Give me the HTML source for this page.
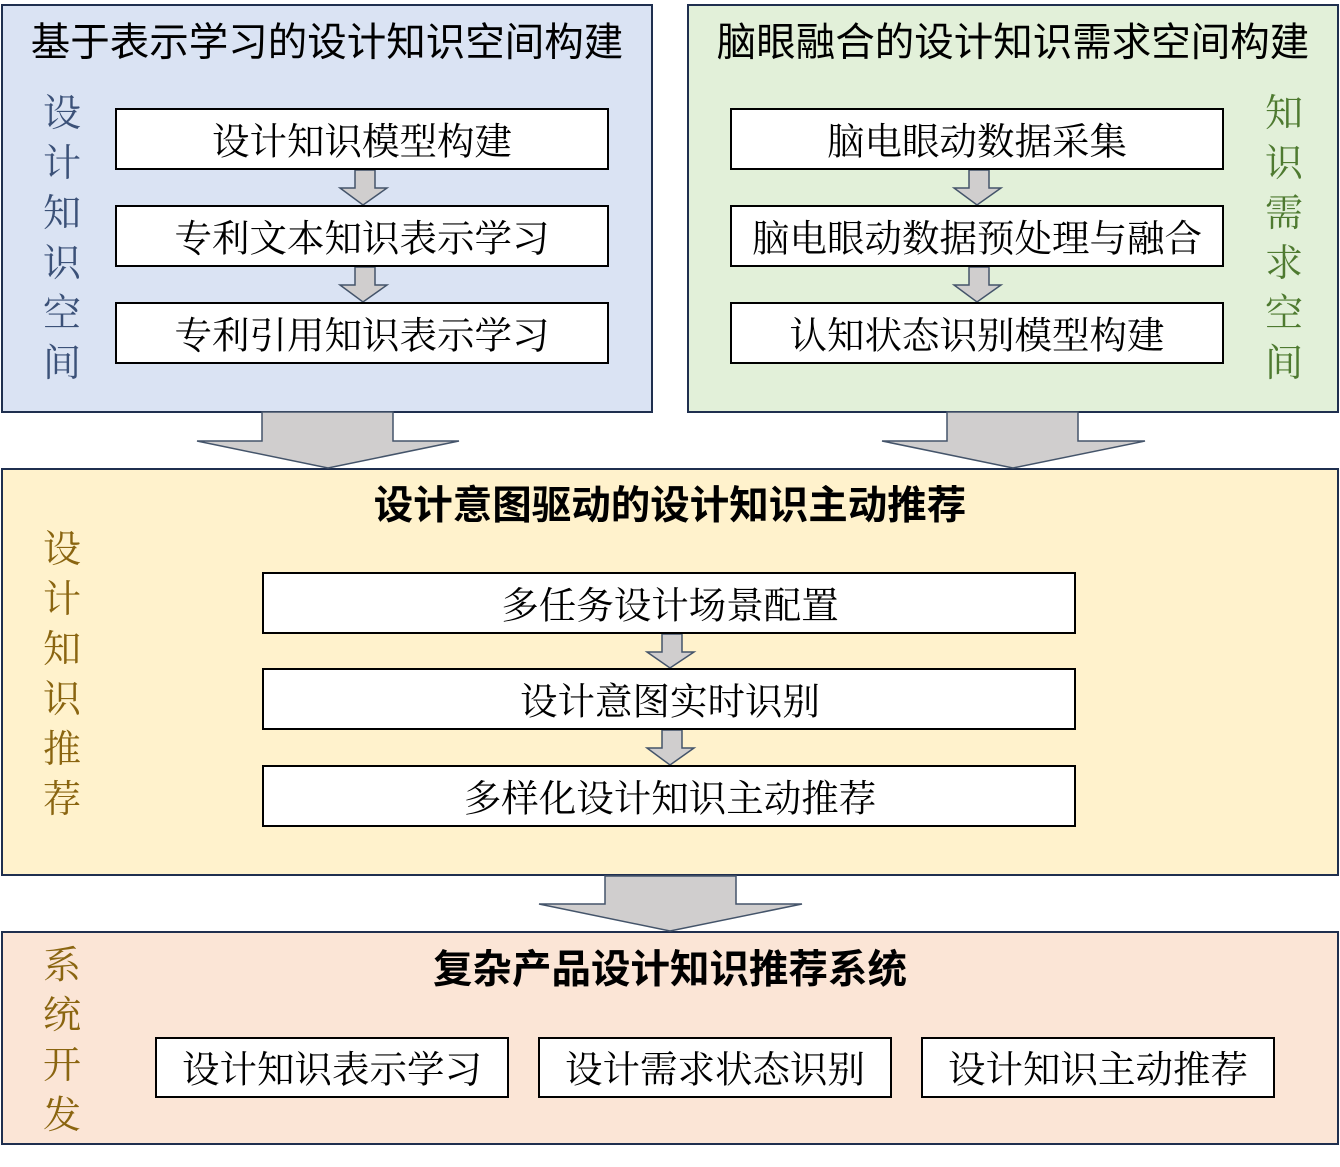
<!DOCTYPE html>
<html><head><meta charset="utf-8"><style>
body{margin:0;background:#fff;}
svg text{dominant-baseline:central;text-anchor:middle;}
.s{font-family:"Liberation Sans","Noto Sans CJK SC",sans-serif;font-size:39.5px;fill:#000;}
.b{font-family:"Liberation Serif","Noto Serif CJK SC",serif;font-size:37.5px;fill:#000;}
.v{font-family:"Liberation Serif","Noto Serif CJK SC",serif;font-size:38px;}
</style></head><body>
<svg width="1340" height="1162" viewBox="0 0 1340 1162" xmlns="http://www.w3.org/2000/svg">
<g stroke="#1f2f4f" stroke-width="2">
<rect x="2" y="5" width="650" height="407" fill="#dae3f3"/>
<rect x="688" y="5" width="650" height="407" fill="#e2f0d9"/>
<rect x="2" y="469" width="1336" height="406" fill="#fff2cc"/>
<rect x="2" y="932" width="1336" height="212" fill="#fbe5d6"/>
</g>
<g fill="#d0cece" stroke="#44546a" stroke-width="1.5">
<polygon points="262,412 393,412 393,441 459,441 328,468 197,441 262,441"/>
<polygon points="947,412 1078,412 1078,441 1145,441 1013,468 882,441 947,441"/>
<polygon points="605,876 736,876 736,904 802,904 670,931 539,904 605,904"/>
<polygon points="355,170 375,170 375,188 387,188 363,205 340,188 355,188"/>
<polygon points="355,267 375,267 375,285 387,285 363,302 340,285 355,285"/>
<polygon points="969,170 989,170 989,188 1001,188 977,205 954,188 969,188"/>
<polygon points="969,267 989,267 989,285 1001,285 977,302 954,285 969,285"/>
<polygon points="662,634 682,634 682,652 694,652 670,668 647,652 662,652"/>
<polygon points="662,730 682,730 682,748 694,748 670,765 647,748 662,748"/>
</g>
<g fill="#fff" stroke="#000" stroke-width="2">
<rect x="116" y="109" width="492" height="60"/><rect x="116" y="206" width="492" height="60"/><rect x="116" y="303" width="492" height="60"/>
<rect x="731" y="109" width="492" height="60"/><rect x="731" y="206" width="492" height="60"/><rect x="731" y="303" width="492" height="60"/>
<rect x="263" y="573" width="812" height="60"/><rect x="263" y="669" width="812" height="60"/><rect x="263" y="766" width="812" height="60"/>
<rect x="156" y="1038" width="352" height="59"/><rect x="539" y="1038" width="352" height="59"/><rect x="922" y="1038" width="352" height="59"/>
</g>
<text class="s" x="327" y="43">基于表示学习的设计知识空间构建</text>
<text class="s" x="1013" y="43">脑眼融合的设计知识需求空间构建</text>
<text class="s" x="670" y="506" font-weight="bold">设计意图驱动的设计知识主动推荐</text>
<text class="s" x="670" y="970" font-weight="bold">复杂产品设计知识推荐系统</text>
<text class="b" x="362" y="143">设计知识模型构建</text>
<text class="b" x="362" y="240">专利文本知识表示学习</text>
<text class="b" x="362" y="337">专利引用知识表示学习</text>
<text class="b" x="977" y="143">脑电眼动数据采集</text>
<text class="b" x="977" y="240">脑电眼动数据预处理与融合</text>
<text class="b" x="977" y="337">认知状态识别模型构建</text>
<text class="b" x="670" y="607">多任务设计场景配置</text>
<text class="b" x="670" y="703">设计意图实时识别</text>
<text class="b" x="670" y="800">多样化设计知识主动推荐</text>
<text class="b" x="332" y="1071">设计知识表示学习</text>
<text class="b" x="715" y="1071">设计需求状态识别</text>
<text class="b" x="1098" y="1071">设计知识主动推荐</text>
<g class="v" fill="#3b5178">
<text x="62" y="114">设</text><text x="62" y="164">计</text><text x="62" y="214">知</text><text x="62" y="264">识</text><text x="62" y="314">空</text><text x="62" y="364">间</text>
</g>
<g class="v" fill="#4e7a30">
<text x="1284" y="114">知</text><text x="1284" y="164">识</text><text x="1284" y="214">需</text><text x="1284" y="264">求</text><text x="1284" y="314">空</text><text x="1284" y="364">间</text>
</g>
<g class="v" fill="#8a6510">
<text x="62" y="550">设</text><text x="62" y="600">计</text><text x="62" y="650">知</text><text x="62" y="700">识</text><text x="62" y="750">推</text><text x="62" y="800">荐</text>
<text x="62" y="966">系</text><text x="62" y="1016">统</text><text x="62" y="1066">开</text><text x="62" y="1116">发</text>
</g>
</svg>
</body></html>
